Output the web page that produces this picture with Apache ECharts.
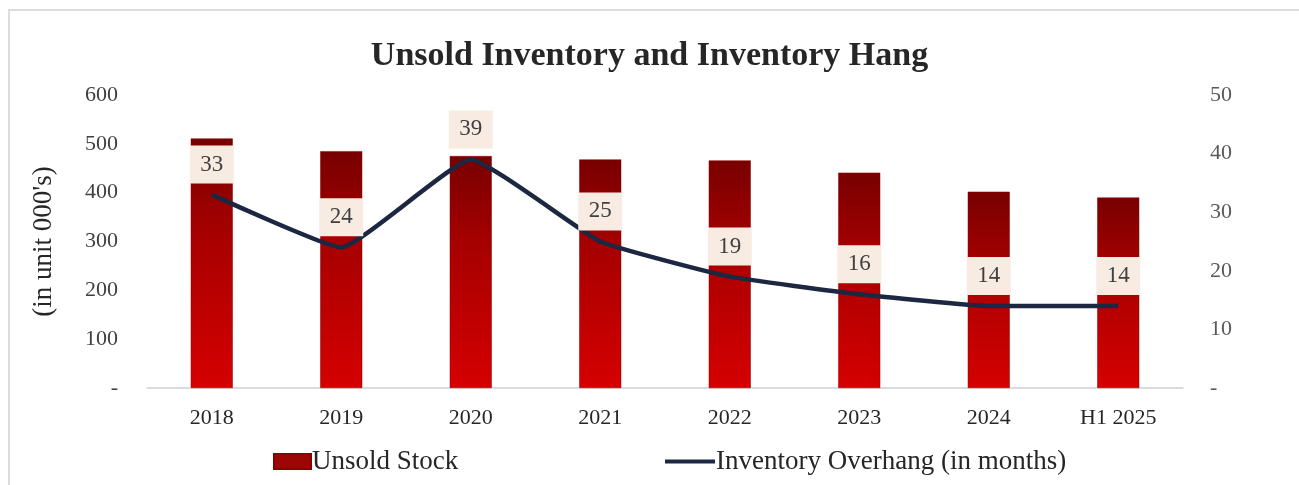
<!DOCTYPE html>
<html>
<head>
<meta charset="utf-8">
<script src="https://cdn.jsdelivr.net/npm/echarts@6/dist/echarts.min.js"></script>
<style>
  html, body { margin: 0; padding: 0; background: #ffffff; }
  #chart { width: 1299px; height: 485px; }
  #frame {
    position: absolute; left: 8px; top: 9px; width: 1400px; height: 600px;
    border-left: 2px solid #dcdcdc; border-top: 2px solid #dcdcdc;
    pointer-events: none;
  }
</style>
</head>
<body>
<div id="chart"></div>
<div id="frame"></div>
<script>
// Years on the category axis
const categories = ['2018', '2019', '2020', '2021', '2022', '2023', '2024', 'H1 2025'];
// Unsold stock, in thousands of units (left axis)
const unsoldStock = [511, 485, 475, 468, 466, 441, 402, 390];
// Inventory overhang, in months (right axis)
const overhangMonths = [33, 24, 39, 25, 19, 16, 14, 14];
// Axis ranges and tick steps
const leftAxis = { min: 0, max: 600, interval: 100 };
const rightAxis = { min: 0, max: 50, interval: 10 };

const serif = '"Liberation Serif", "DejaVu Serif", serif';
const chart = echarts.init(document.getElementById('chart'), null, { renderer: 'canvas' });

const dash = v => (v === 0 ? '-' : String(v));

chart.setOption({
  backgroundColor: '#ffffff',
  animation: false,
  title: {
    text: 'Unsold Inventory and Inventory Hang',
    left: 'center',
    top: 34,
    textStyle: { fontFamily: serif, fontSize: 34, fontWeight: 'bold', color: '#262626' }
  },
  grid: { left: 147, right: 116, top: 95, bottom: 97, containLabel: false },
  legend: [
    {
      data: [{ name: 'Unsold Stock', icon: 'rect' }],
      left: 268, top: 443,
      itemWidth: 37, itemHeight: 15,
      itemStyle: { color: '#9e0606' },
      textStyle: { fontFamily: serif, fontSize: 27, color: '#262626', padding: [0, 0, 0, -4] }
    },
    {
      data: [{ name: 'Inventory Overhang (in months)', icon: 'rect' }],
      left: 660, top: 443,
      itemWidth: 50, itemHeight: 4,
      itemStyle: { color: '#1c2741' },
      textStyle: { fontFamily: serif, fontSize: 27, color: '#262626', padding: [0, 0, 0, -4] }
    }
  ],
  xAxis: {
    type: 'category',
    data: categories,
    axisLine: { lineStyle: { color: '#d0d0d0', width: 1.5 } },
    axisTick: { show: false },
    axisLabel: { fontFamily: serif, fontSize: 22, color: '#262626', margin: 19 }
  },
  yAxis: [
    {
      type: 'value',
      min: leftAxis.min, max: leftAxis.max, interval: leftAxis.interval,
      name: "(in unit 000's)",
      nameLocation: 'middle',
      nameRotate: 90,
      nameGap: 90,
      nameTextStyle: { fontFamily: serif, fontSize: 27, color: '#262626' },
      splitLine: { show: false },
      axisLine: { show: false },
      axisTick: { show: false },
      axisLabel: { fontFamily: serif, fontSize: 22, color: '#404040', margin: 29, formatter: dash }
    },
    {
      type: 'value',
      min: rightAxis.min, max: rightAxis.max, interval: rightAxis.interval,
      splitLine: { show: false },
      axisLine: { show: false },
      axisTick: { show: false },
      axisLabel: { fontFamily: serif, fontSize: 22, color: '#595959', margin: 27, formatter: dash }
    }
  ],
  series: [
    {
      name: 'Unsold Stock',
      type: 'bar',
      yAxisIndex: 0,
      data: unsoldStock,
      barWidth: 42,
      itemStyle: {
        color: new echarts.graphic.LinearGradient(0, 0, 0, 1, [
          { offset: 0, color: '#780000' },
          { offset: 0.35, color: '#a40000' },
          { offset: 1, color: '#d60000' }
        ]),
        borderColor: '#8a0000',
        borderWidth: 0.5
      },
      z: 2
    },
    {
      name: 'Inventory Overhang (in months)',
      type: 'line',
      yAxisIndex: 1,
      data: overhangMonths,
      smooth: 0.12,
      symbol: 'circle',
      symbolSize: 0.1,
      showSymbol: true,
      lineStyle: { color: '#1c2741', width: 4.5 },
      itemStyle: { color: '#1c2741' },
      label: {
        show: true,
        position: 'top',
        distance: 11,
        fontFamily: serif,
        fontSize: 23,
        color: '#404040',
        backgroundColor: '#f8ebe2',
        width: 44,
        lineHeight: 22,
        padding: [8, 0, 8, 0],
        align: 'center'
      },
      z: 3
    }
  ]
});
</script>
</body>
</html>
